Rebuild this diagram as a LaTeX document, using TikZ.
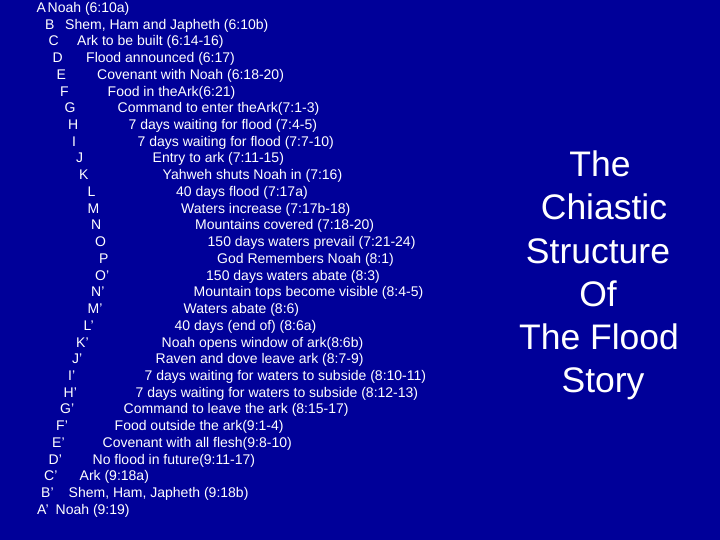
\documentclass[tikz,border=0pt]{standalone}
\usepackage{fontspec}
\setmainfont{Liberation Sans}
\usetikzlibrary{positioning}
\definecolor{slideblue}{RGB}{0,0,153}
\tikzset{
  letter/.style={anchor=base west, inner sep=0pt, text=white, font=\fontsize{14}{16}\selectfont},
  entry/.style={anchor=base west, inner sep=0pt, text=white, font=\fontsize{14}{16}\selectfont},
  title/.style={anchor=base, inner sep=0pt, text=white, font=\fontsize{35.5}{43}\selectfont}
}
\begin{document}
\begin{tikzpicture}[x=1pt,y=-1pt]
% Slide background
\fill[slideblue] (0,0) rectangle (720,540);
\useasboundingbox (0,0) rectangle (720,540);

% Chiastic list: letters and entries
\foreach \i/\lx/\tx/\lab/\txt in {
  0/36.5/47.5/A/{Noah (6:10a)},
  1/45/65/B/{Shem, Ham and Japheth (6:10b)},
  2/48.5/77/C/{Ark to be built (6:14-16)},
  3/52.5/86/D/{Flood announced (6:17)},
  4/56.5/97/E/{Covenant with Noah (6:18-20)},
  5/60/107.5/F/{Food in theArk(6:21)},
  6/64.5/117.5/G/{Command to enter theArk(7:1-3)},
  7/68/128.5/H/{7 days waiting for flood (7:4-5)},
  8/72/137.5/I/{7 days waiting for flood (7:7-10)},
  9/76/152.5/J/{Entry to ark (7:11-15)},
  10/79/162.5/K/{Yahweh shuts Noah in (7:16)},
  11/87.5/176/L/{40 days flood (7:17a)},
  12/87.5/181/M/{Waters increase (7:17b-18)},
  13/91/195/N/{Mountains covered (7:18-20)},
  14/95/207.5/O/{150 days waters prevail (7:21-24)},
  15/99/217/P/{God Remembers Noah (8:1)},
  16/95/206/O’/{150 days waters abate (8:3)},
  17/91/193.5/N’/{Mountain tops become visible (8:4-5)},
  18/87.5/183.5/M’/{Waters abate (8:6)},
  19/83.5/174.5/L’/{40 days (end of) (8:6a)},
  20/76/161.5/K’/{Noah opens window of ark(8:6b)},
  21/72/155.5/J’/{Raven and dove leave ark (8:7-9)},
  22/68/144.5/I’/{7 days waiting for waters to subside (8:10-11)},
  23/63.5/135.5/H’/{7 days waiting for waters to subside (8:12-13)},
  24/60/123.5/G’/{Command to leave the ark (8:15-17)},
  25/56/114.5/F’/{Food outside the ark(9:1-4)},
  26/52/102.5/E’/{Covenant with all flesh(9:8-10)},
  27/48.5/92.5/D’/{No flood in future(9:11-17)},
  28/44/79.5/C’/{Ark (9:18a)},
  29/41/68.5/B’/{Shem, Ham, Japheth (9:18b)},
  30/37/55.5/A’/{Noah (9:19)}%
}{
  \node[letter] (lab-\i) at (\lx, 12.4+16.73*\i) {\lab};
  \node[entry] (item-\i) at (\tx, 12.4+16.73*\i) {\txt};
}

% Title on the right
\foreach \j/\cx/\line in {0/600/The, 1/604/Chiastic, 2/598/Structure, 3/598/Of, 4/599/The Flood, 5/603/Story}{
  \node[title] (title-\j) at (\cx, 177+43*\j) {\line};
}
\end{tikzpicture}
\end{document}
